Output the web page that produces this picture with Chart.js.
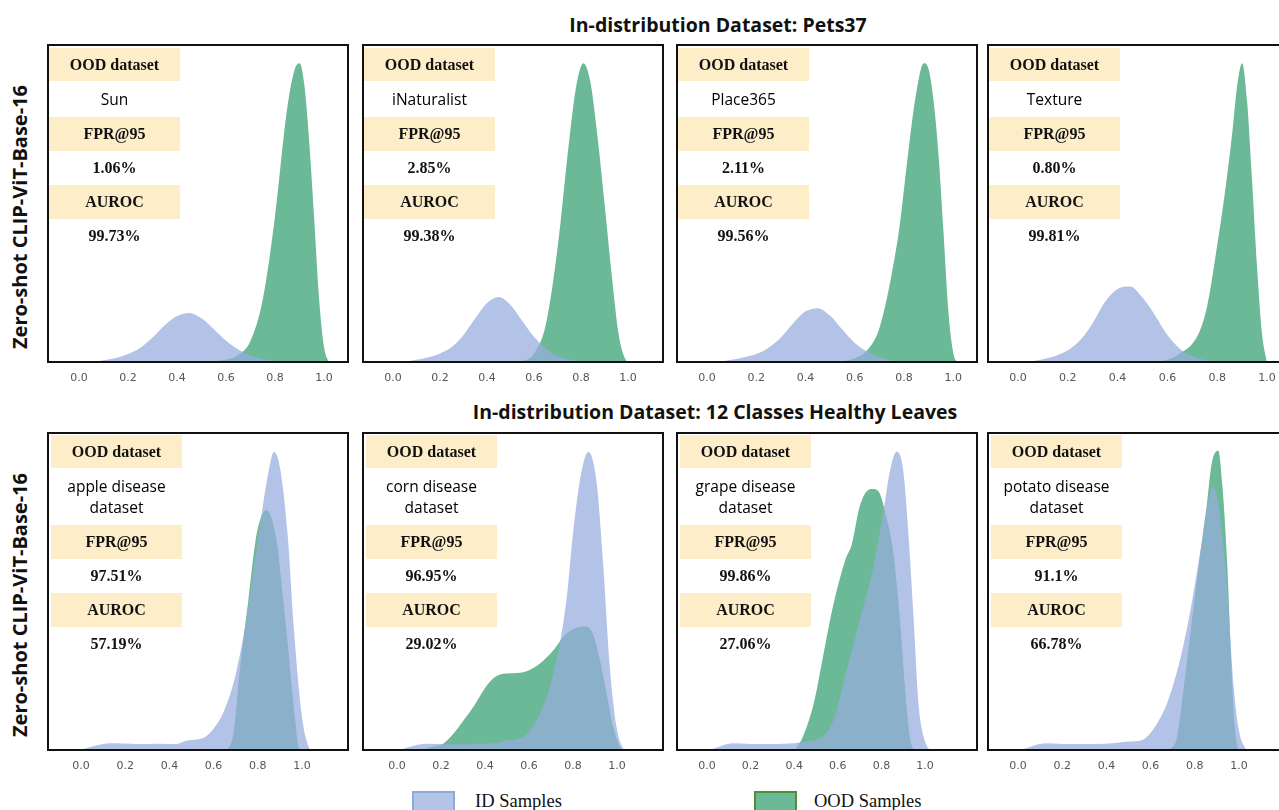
<!DOCTYPE html>
<html lang="en"><head><meta charset="utf-8">
<title>ID vs OOD score densities</title>
<script src="https://cdn.jsdelivr.net/npm/chart.js@4/dist/chart.umd.min.js"></script>
<style>
body{margin:0;width:1279px;height:810px;overflow:hidden;position:relative;background:#fff;font-family:"Open Sans",sans-serif;color:#111}
.title{position:absolute;font-weight:700;font-size:19.5px;line-height:26px;white-space:nowrap;transform:translateX(-50%)}
.ylab{position:absolute;font-weight:700;font-size:20px;line-height:24px;white-space:nowrap;transform:translate(-50%,-50%) rotate(-90deg)}
.panel{position:absolute;width:302px;height:349px}
.panel canvas{position:absolute;left:0;top:0}
.info{position:absolute;width:131px;display:flex;flex-direction:column;text-align:center;z-index:2}
.lab{background:#fdeec9;font-family:"Liberation Serif",serif;font-weight:700;font-size:16px;height:34px;line-height:34px}
.lab.first{height:33px;line-height:33px}
.name{font-size:15.5px;line-height:21px;padding:7.5px 0;color:#000}
.val{font-family:"Liberation Serif",serif;font-weight:700;font-size:16px;height:34px;line-height:34px}
.lgbox{position:absolute;width:39px;height:22px;border:2px solid}
.lgtxt{position:absolute;font-family:"Liberation Serif",serif;font-size:18.5px;line-height:22px}
</style></head><body>
<script>
const xTicks = [0, 0.2, 0.4, 0.6, 0.8, 1.0];
const rowTitles = ['In-distribution Dataset: Pets37', 'In-distribution Dataset: 12 Classes Healthy Leaves'];
const modelName = 'Zero-shot CLIP-ViT-Base-16';
const seriesNames = ['ID Samples', 'OOD Samples'];
const oodNames = ['Sun', 'iNaturalist', 'Place365', 'Texture',
  'apple disease dataset', 'corn disease dataset', 'grape disease dataset', 'potato disease dataset'];
const fprValues = ['1.06%', '2.85%', '2.11%', '0.80%', '97.51%', '96.95%', '99.86%', '91.1%'];
const aurocValues = ['99.73%', '99.38%', '99.56%', '99.81%', '57.19%', '29.02%', '27.06%', '66.78%'];

// density curves: [score, density relative to panel height]
const idSun = [[-0.05,0],[0.05,0.004],[0.1,0.009],[0.15,0.016],[0.2,0.028],[0.25,0.048],[0.3,0.08],[0.35,0.118],[0.4,0.147],[0.45,0.157],[0.5,0.14],[0.55,0.106],[0.6,0.07],[0.65,0.042],[0.7,0.023],[0.75,0.012],[0.8,0.006],[0.85,0.002],[0.9,0]];
const oodSun = [[0.45,0],[0.5,0.004],[0.6,0.01],[0.65,0.025],[0.7,0.07],[0.75,0.2],[0.8,0.46],[0.85,0.8],[0.88,0.92],[0.9,0.94],[0.92,0.87],[0.94,0.69],[0.96,0.45],[0.98,0.2],[1.0,0.05],[1.02,0]];
const idINat = [[0.0,0],[0.05,0.004],[0.1,0.01],[0.15,0.018],[0.2,0.03],[0.25,0.05],[0.3,0.088],[0.35,0.14],[0.4,0.188],[0.45,0.207],[0.5,0.182],[0.55,0.132],[0.6,0.082],[0.65,0.045],[0.7,0.022],[0.75,0.01],[0.8,0.004],[0.85,0]];
const oodINat = [[0.5,0],[0.55,0.005],[0.6,0.03],[0.65,0.12],[0.7,0.36],[0.75,0.7],[0.78,0.87],[0.81,0.94],[0.84,0.88],[0.87,0.71],[0.9,0.5],[0.93,0.28],[0.96,0.09],[0.99,0.01],[1.01,0]];
const idPlace = [[-0.02,0],[0.05,0.005],[0.1,0.01],[0.15,0.018],[0.2,0.028],[0.25,0.048],[0.3,0.08],[0.35,0.125],[0.4,0.162],[0.45,0.172],[0.5,0.148],[0.55,0.104],[0.6,0.063],[0.65,0.036],[0.7,0.018],[0.75,0.008],[0.8,0.003],[0.85,0]];
const oodPlace = [[0.5,0],[0.55,0.005],[0.6,0.015],[0.65,0.04],[0.7,0.11],[0.75,0.28],[0.78,0.42],[0.82,0.68],[0.85,0.85],[0.88,0.94],[0.9,0.92],[0.92,0.82],[0.94,0.65],[0.96,0.41],[0.98,0.16],[1.0,0.03],[1.02,0]];
const idTexture = [[-0.02,0],[0.05,0.005],[0.1,0.012],[0.15,0.022],[0.2,0.04],[0.25,0.072],[0.3,0.125],[0.35,0.192],[0.4,0.232],[0.45,0.24],[0.5,0.205],[0.55,0.15],[0.6,0.088],[0.65,0.045],[0.7,0.021],[0.75,0.01],[0.8,0.003],[0.85,0]];
const oodTexture = [[0.5,0],[0.55,0.003],[0.6,0.01],[0.65,0.03],[0.7,0.06],[0.73,0.1],[0.76,0.18],[0.8,0.37],[0.83,0.53],[0.86,0.72],[0.88,0.87],[0.9,0.94],[0.92,0.82],[0.94,0.57],[0.96,0.3],[0.98,0.09],[1.0,0]];
const idApple = [[-0.02,0],[0.03,0.01],[0.1,0.022],[0.15,0.024],[0.25,0.022],[0.35,0.023],[0.43,0.022],[0.48,0.033],[0.55,0.04],[0.6,0.07],[0.65,0.13],[0.7,0.24],[0.75,0.42],[0.8,0.66],[0.85,0.88],[0.873,0.937],[0.9,0.89],[0.935,0.68],[0.965,0.37],[1.0,0.107],[1.03,0.013],[1.05,0]];
const oodApple = [[0.66,0],[0.69,0.054],[0.72,0.26],[0.757,0.47],[0.795,0.68],[0.84,0.755],[0.885,0.66],[0.916,0.47],[0.946,0.26],[0.968,0.107],[0.986,0.01],[1.0,0]];
const idCorn = [[0.0,0],[0.05,0.012],[0.14,0.023],[0.25,0.021],[0.35,0.022],[0.45,0.024],[0.49,0.033],[0.55,0.038],[0.6,0.06],[0.65,0.117],[0.71,0.24],[0.77,0.47],[0.8,0.68],[0.83,0.84],[0.87,0.937],[0.908,0.84],[0.938,0.58],[0.968,0.26],[0.998,0.075],[1.03,0.007],[1.05,0]];
const oodCorn = [[0.08,0],[0.15,0.012],[0.21,0.023],[0.256,0.054],[0.302,0.096],[0.347,0.138],[0.393,0.19],[0.438,0.228],[0.484,0.242],[0.53,0.244],[0.59,0.25],[0.65,0.274],[0.71,0.315],[0.77,0.368],[0.83,0.389],[0.855,0.39],[0.89,0.368],[0.923,0.284],[0.953,0.18],[0.983,0.075],[1.014,0.012],[1.03,0]];
const idGrape = [[0.0,0],[0.05,0.012],[0.117,0.024],[0.2,0.022],[0.3,0.022],[0.4,0.024],[0.47,0.032],[0.52,0.04],[0.58,0.097],[0.64,0.254],[0.7,0.41],[0.76,0.567],[0.81,0.755],[0.84,0.88],[0.87,0.938],[0.9,0.88],[0.925,0.67],[0.948,0.41],[0.97,0.15],[0.994,0.045],[1.024,0.003],[1.04,0]];
const oodGrape = [[0.4,0],[0.44,0.045],[0.49,0.15],[0.535,0.306],[0.58,0.46],[0.635,0.6],[0.665,0.65],[0.7,0.766],[0.74,0.818],[0.76,0.821],[0.79,0.81],[0.82,0.74],[0.855,0.62],[0.885,0.41],[0.908,0.2],[0.93,0.045],[0.948,0]];
const idPotato = [[0.0,0],[0.05,0.012],[0.124,0.024],[0.2,0.022],[0.3,0.022],[0.4,0.023],[0.5,0.03],[0.56,0.034],[0.62,0.076],[0.68,0.16],[0.74,0.306],[0.785,0.46],[0.835,0.67],[0.865,0.8],[0.886,0.829],[0.916,0.724],[0.946,0.515],[0.976,0.2],[0.999,0.066],[1.03,0.008],[1.05,0]];
const oodPotato = [[0.68,0],[0.72,0.045],[0.75,0.2],[0.787,0.41],[0.825,0.62],[0.855,0.776],[0.876,0.9],[0.906,0.941],[0.925,0.83],[0.948,0.567],[0.963,0.306],[0.978,0.097],[0.993,0.014],[1.005,0]];

const idCurves = [idSun, idINat, idPlace, idTexture, idApple, idCorn, idGrape, idPotato];
const oodCurves = [oodSun, oodINat, oodPlace, oodTexture, oodApple, oodCorn, oodGrape, oodPotato];

// layout
const panelLeft = [47, 362, 676, 987];
const rowTop = [44, 432];
const xRange = [[-0.131,1.102],[-0.132,1.153],[-0.126,1.10],[-0.124,1.088],
                [-0.154,1.213],[-0.159,1.214],[-0.142,1.243],[-0.140,1.226]];
const idColor = 'rgba(150,172,222,0.72)';
const oodColor = '#6cb997';

const frame = {
  id: 'frame',
  afterDatasetsDraw(c) {
    const a = c.chartArea, ctx = c.ctx;
    ctx.save();
    ctx.lineWidth = 2;
    ctx.strokeStyle = '#111';
    ctx.strokeRect(a.left + 1, a.top + 1, a.right - a.left - 2, a.bottom - a.top - 2);
    ctx.restore();
  }
};

function el(tag, cls, text, style) {
  const e = document.createElement(tag);
  if (cls) e.className = cls;
  if (text != null) e.textContent = text;
  if (style) Object.assign(e.style, style);
  return e;
}

// titles and row labels
rowTitles.forEach((t, r) => {
  document.body.appendChild(el('div', 'title', t, { left: (r ? 715 : 718) + 'px', top: (r ? 399 : 12) + 'px' }));
  document.body.appendChild(el('div', 'ylab', modelName, { left: '20px', top: (r ? 605 : 217) + 'px' }));
});

for (let i = 0; i < 8; i++) {
  const row = Math.floor(i / 4), col = i % 4;
  const p = el('div', 'panel', null, { left: panelLeft[col] + 'px', top: rowTop[row] + 'px' });
  const cv = document.createElement('canvas');
  cv.width = 302; cv.height = 349;
  p.appendChild(cv);

  const info = el('div', 'info', null, { left: (row ? 4 : 2) + 'px', top: (row ? 3 : 4) + 'px' });
  info.appendChild(el('div', 'lab first', 'OOD dataset'));
  info.appendChild(el('div', 'name', oodNames[i]));
  info.appendChild(el('div', 'lab', 'FPR@95'));
  info.appendChild(el('div', 'val', fprValues[i]));
  info.appendChild(el('div', 'lab', 'AUROC'));
  info.appendChild(el('div', 'val', aurocValues[i]));
  p.appendChild(info);
  document.body.appendChild(p);

  new Chart(cv, {
    type: 'line',
    data: {
      datasets: [
        { label: seriesNames[0], data: idCurves[i].map(d => ({ x: d[0], y: d[1] })),
          backgroundColor: idColor, borderColor: 'rgba(0,0,0,0)', borderWidth: 1,
          fill: 'origin', pointRadius: 0, cubicInterpolationMode: 'monotone' },
        { label: seriesNames[1], data: oodCurves[i].map(d => ({ x: d[0], y: d[1] })),
          backgroundColor: oodColor, borderColor: 'rgba(0,0,0,0)', borderWidth: 1,
          fill: 'origin', pointRadius: 0, cubicInterpolationMode: 'monotone' }
      ]
    },
    options: {
      responsive: false,
      animation: false,
      events: [],
      layout: { padding: 0 },
      plugins: { legend: { display: false }, tooltip: { enabled: false } },
      scales: {
        x: {
          type: 'linear', min: xRange[i][0], max: xRange[i][1],
          grid: { display: false, drawTicks: false },
          border: { display: false },
          afterBuildTicks: s => { s.ticks = xTicks.map(v => ({ value: v })); },
          afterFit: s => { s.height = 30; },
          ticks: { padding: 9, color: '#555', maxRotation: 0, autoSkip: false,
                   font: { family: 'DejaVu Sans', size: 11 },
                   callback: v => Number(v).toFixed(1) }
        },
        y: { display: false, min: 0, max: 1 }
      }
    },
    plugins: [frame]
  });
}

// legend
[[412, 475, '#b4c4e6', '#8eaadb'], [754, 814, oodColor, '#4e8f3a']].forEach((l, k) => {
  document.body.appendChild(el('div', 'lgbox', null, { left: l[0] + 'px', top: '791px', background: l[2], borderColor: l[3] }));
  document.body.appendChild(el('div', 'lgtxt', seriesNames[k], { left: l[1] + 'px', top: '790px' }));
});
</script>
</body></html>
